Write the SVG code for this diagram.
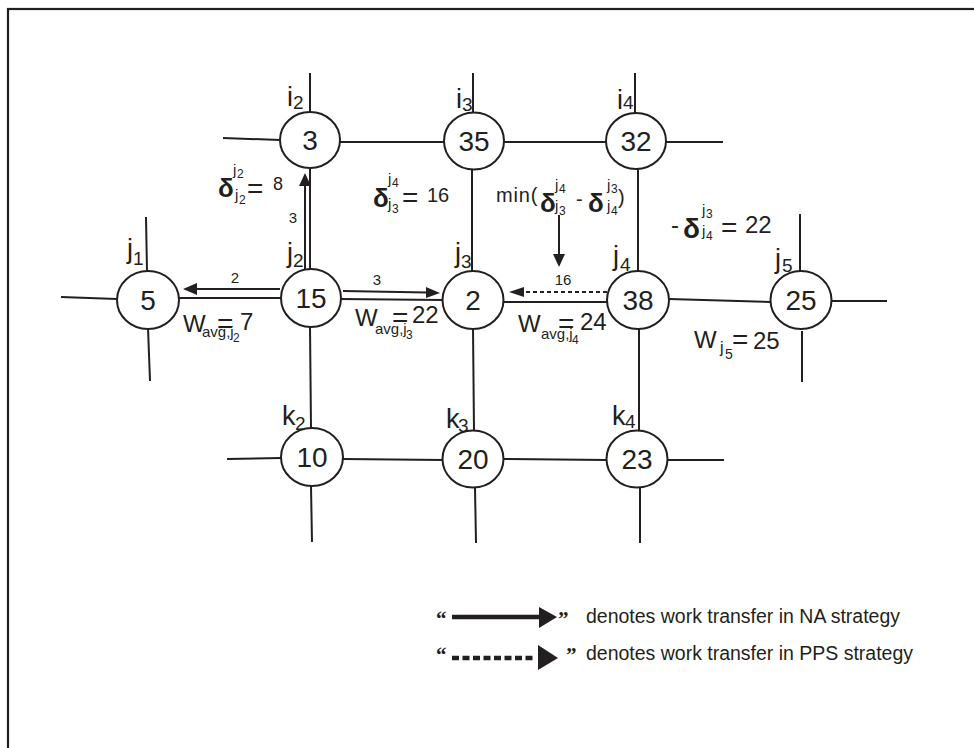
<svg xmlns="http://www.w3.org/2000/svg" width="974" height="748" viewBox="0 0 974 748">
<style>
  text { font-family: "Liberation Sans", Arial, sans-serif; fill: #231f20; }
  .num { font-size: 28px; text-anchor: middle; }
  .lab { font-size: 27px; }
  .sub { font-size: 19px; }
  .al { font-size: 15px; text-anchor: middle; }
  .d { font-size: 26px; font-weight: bold; }
  .ds { font-size: 15px; }
  .eq { font-size: 28px; }
  .w { font-size: 24px; }
  .ws { font-size: 15px; }
  .wss { font-size: 12px; }
  .leg { font-size: 19.5px; }
  .q { font-size: 21px; font-weight: bold; font-family: "Liberation Serif", serif; }
  ellipse { fill: #fff; stroke: #231f20; stroke-width: 2; }
  .ln line { stroke: #231f20; stroke-width: 2; }
  .ar line { stroke: #231f20; stroke-width: 2; }
  .ar polygon, .legend polygon { fill: #231f20; }
</style>
<rect x="8" y="9" width="1000" height="800" fill="#fff" stroke="#231f20" stroke-width="2.2"/>

<g id="connectors">
  <g class="ln">
    <line x1="310" y1="73" x2="310" y2="112"/>
    <line x1="223" y1="138" x2="280" y2="140"/>
    <line x1="340" y1="142" x2="444" y2="142"/>
    <line x1="473" y1="73" x2="473" y2="112"/>
    <line x1="504" y1="142" x2="606" y2="142"/>
    <line x1="666" y1="142" x2="723" y2="142"/>
    <line x1="635" y1="73" x2="635" y2="113"/>
    <line x1="310" y1="168" x2="310" y2="269"/>
    <line x1="472" y1="170" x2="472" y2="271"/>
    <line x1="638" y1="169" x2="638" y2="271"/>
    <line x1="146" y1="217" x2="147" y2="271"/>
    <line x1="61" y1="297" x2="117" y2="299"/>
    <line x1="179" y1="298" x2="281" y2="298"/>
    <line x1="340" y1="299" x2="443" y2="300"/>
    <line x1="504" y1="302" x2="607" y2="302"/>
    <line x1="669" y1="299" x2="771" y2="302"/>
    <line x1="832" y1="301" x2="887" y2="301"/>
    <line x1="800" y1="214" x2="800" y2="271"/>
    <line x1="148" y1="328" x2="150" y2="381"/>
    <line x1="310" y1="327" x2="311" y2="428"/>
    <line x1="473" y1="328" x2="474" y2="431"/>
    <line x1="639" y1="329" x2="639" y2="431"/>
    <line x1="802" y1="331" x2="802" y2="382"/>
    <line x1="227" y1="459" x2="281" y2="458"/>
    <line x1="343" y1="459" x2="443" y2="460"/>
    <line x1="504" y1="459" x2="607" y2="460"/>
    <line x1="668" y1="460" x2="724" y2="460"/>
    <line x1="311" y1="486" x2="312" y2="542"/>
    <line x1="475" y1="488" x2="476" y2="543"/>
    <line x1="640" y1="488" x2="640" y2="543"/>
  </g>
  <g class="ar">
    <line x1="280" y1="289" x2="196" y2="289"/>
    <polygon points="183,289 197,283 197,295"/>
    <line x1="305" y1="270" x2="305" y2="185"/>
    <polygon points="305,173 299,186 311,186"/>
    <line x1="343" y1="291" x2="427" y2="292.5"/>
    <polygon points="440,293 426,287 426,298"/>
    <line x1="607" y1="292" x2="523" y2="292" stroke-dasharray="4 3"/>
    <polygon points="509,292 524,287 524,297"/>
    <line x1="559" y1="215" x2="559" y2="255"/>
    <polygon points="559,267 553,254 565,254"/>
  </g>
  <text class="al" x="235" y="283">2</text>
  <text class="al" x="293" y="223">3</text>
  <text class="al" x="377" y="285">3</text>
  <text class="al" x="563" y="285">16</text>
</g>

<g id="node-i2"><ellipse cx="310" cy="140" rx="30" ry="28"/><text class="num" x="310" y="150">3</text>
  <text class="lab" x="287" y="106">i</text><text class="sub" x="293" y="109">2</text></g>
<g id="node-i3"><ellipse cx="474" cy="141" rx="30" ry="28.5"/><text class="num" x="474" y="151">35</text>
  <text class="lab" x="456" y="108">i</text><text class="sub" x="462" y="111">3</text></g>
<g id="node-i4"><ellipse cx="636" cy="141" rx="30" ry="28"/><text class="num" x="636" y="151">32</text>
  <text class="lab" x="617" y="109">i</text><text class="sub" x="623" y="109">4</text></g>
<g id="node-j1"><ellipse cx="148" cy="300" rx="31" ry="29"/><text class="num" x="148" y="310">5</text>
  <text class="lab" x="127" y="258">j</text><text class="sub" x="133" y="265">1</text></g>
<g id="node-j2"><ellipse cx="311" cy="298" rx="30" ry="29"/><text class="num" x="311" y="308">15</text>
  <text class="lab" x="287" y="262">j</text><text class="sub" x="293" y="267">2</text></g>
<g id="node-j3"><ellipse cx="473" cy="300" rx="30.5" ry="29"/><text class="num" x="473" y="310">2</text>
  <text class="lab" x="455" y="262">j</text><text class="sub" x="461" y="268">3</text></g>
<g id="node-j4"><ellipse cx="638" cy="300" rx="31" ry="29"/><text class="num" x="638" y="310">38</text>
  <text class="lab" x="613" y="265">j</text><text class="sub" x="620" y="271">4</text></g>
<g id="node-j5"><ellipse cx="801" cy="300" rx="30.5" ry="29"/><text class="num" x="801" y="310">25</text>
  <text class="lab" x="775" y="268">j</text><text class="sub" x="782" y="272">5</text></g>
<g id="node-k2"><ellipse cx="312" cy="457" rx="31" ry="29"/><text class="num" x="312" y="467">10</text>
  <text class="lab" x="282" y="425">k</text><text class="sub" x="295" y="430">2</text></g>
<g id="node-k3"><ellipse cx="473" cy="459" rx="30.5" ry="28.5"/><text class="num" x="473" y="469">20</text>
  <text class="lab" x="446" y="428">k</text><text class="sub" x="458" y="432">3</text></g>
<g id="node-k4"><ellipse cx="637" cy="459" rx="30.5" ry="28.5"/><text class="num" x="637" y="469">23</text>
  <text class="lab" x="612" y="425">k</text><text class="sub" x="625" y="428">4</text></g>

<g id="annotations">
  <text class="d" x="218" y="197">δ</text><text class="ds" x="233" y="175">j</text><text class="wss" x="237" y="178">2</text>
  <text class="ds" x="235" y="200">j</text><text class="wss" x="239" y="204">2</text>
  <text class="eq" x="247" y="198">=</text><text style="font-size:18px" x="273" y="190">8</text>

  <text class="d" x="373" y="207">δ</text><text class="ds" x="388" y="184">j</text><text class="wss" x="392" y="187">4</text>
  <text class="ds" x="388" y="209">j</text><text class="wss" x="392" y="213">3</text>
  <text class="eq" x="402" y="207">=</text><text style="font-size:20px" x="427" y="202">16</text>

  <text style="font-size:20px;letter-spacing:0.8px" x="496" y="202">min(</text>
  <text class="d" x="540" y="212">δ</text><text class="ds" x="555" y="190">j</text><text class="wss" x="559" y="193">4</text>
  <text class="ds" x="555" y="211">j</text><text class="wss" x="559" y="215">3</text>
  <text style="font-size:20px" x="576" y="206">-</text>
  <text class="d" x="588" y="212">δ</text><text class="ds" x="607" y="190">j</text><text class="wss" x="611" y="193">3</text>
  <text class="ds" x="607" y="211">j</text><text class="wss" x="611" y="215">4</text>
  <text style="font-size:20px" x="618" y="204">)</text>

  <text style="font-size:24px" x="671" y="233">-</text>
  <text class="d" style="font-size:28px" x="683" y="238">δ</text><text class="ds" x="702" y="215">j</text><text class="wss" x="706" y="218">3</text>
  <text class="ds" x="702" y="236">j</text><text class="wss" x="706" y="240">4</text>
  <text class="eq" x="721" y="237">=</text><text class="w" x="745" y="233">22</text>

  <text class="w" x="183" y="332">W</text><text class="ws" x="202" y="337">avg,j</text><text class="wss" x="233" y="342">2</text>
  <text class="eq" x="217" y="333">=</text><text class="w" x="240" y="330">7</text>

  <text class="w" x="355" y="326">W</text><text class="ws" x="375" y="334">avg,j</text><text class="wss" x="406" y="339">3</text>
  <text class="eq" x="392" y="327">=</text><text class="w" x="412" y="323">22</text>

  <text class="w" x="518" y="332">W</text><text class="ws" x="541" y="339">avg,j</text><text class="wss" x="572" y="344">4</text>
  <text class="eq" x="558" y="333">=</text><text class="w" x="580" y="330">24</text>

  <text class="w" x="694" y="348">W</text><text style="font-size:16px" x="720" y="353">j</text><text style="font-size:14px" x="725" y="359">5</text>
  <text class="eq" x="732" y="349">=</text><text class="w" x="753" y="349">25</text>
</g>

<g id="legend" class="legend">
  <text class="q" x="436" y="626">“</text>
  <line x1="452" y1="617" x2="541" y2="617" stroke="#231f20" stroke-width="4.5"/>
  <polygon points="557,617 539,607 539,628"/>
  <text class="q" x="558" y="626">”</text>
  <text class="leg" x="586" y="623" textLength="314">denotes work transfer in NA strategy</text>

  <text class="q" x="436" y="662">“</text>
  <line x1="452" y1="658" x2="536" y2="658" stroke="#231f20" stroke-width="4.5" stroke-dasharray="7 3.5"/>
  <polygon points="558,658 538,645 538,670"/>
  <text class="q" x="566" y="662">”</text>
  <text class="leg" x="586" y="660" textLength="327">denotes work transfer in PPS strategy</text>
</g>
</svg>
